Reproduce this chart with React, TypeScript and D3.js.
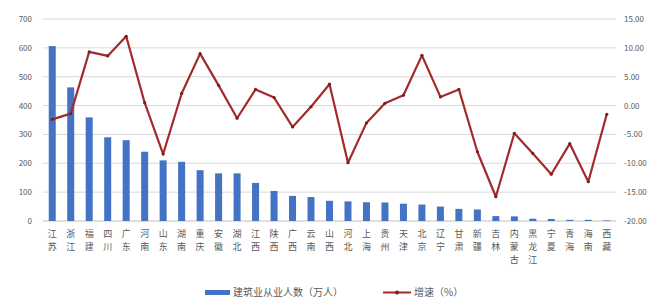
import React from "react";
import * as d3 from "d3";

const categories = ["江苏","浙江","福建","四川","广东","河南","山东","湖南","重庆","安徽","湖北","江西","陕西","广西","云南","山西","河北","上海","贵州","天津","北京","辽宁","甘肃","新疆","吉林","内蒙古","黑龙江","宁夏","青海","海南","西藏"];
const employment = [606,463,359,290,280,240,210,205,176,165,165,132,104,87,83,70,68,65,64,60,57,50,42,40,17,16,8,7,4,4,2];
const growth = [-2.4,-1.4,9.3,8.6,12.0,0.5,-8.4,2.1,9.0,3.5,-2.2,2.8,1.4,-3.7,-0.2,3.7,-9.9,-3.0,0.4,1.8,8.7,1.5,2.8,-8.0,-15.8,-4.8,-8.3,-11.9,-6.6,-13.2,-1.5];
const leftTicks = [0,100,200,300,400,500,600,700];
const rightTicks = [-20,-15,-10,-5,0,5,10,15];
const legendBar = "建筑业从业人数（万人）";
const legendLine = "增速（%）";

export default function App() {
  const W = 653, H = 303;
  const left = 43, right = 616, top = 19, bottom = 221;
  const x = d3.scaleBand<string>().domain(categories).range([left, right]);
  const yL = d3.scaleLinear().domain([0, 700]).range([bottom, top]);
  const yR = d3.scaleLinear().domain([-20, 15]).range([bottom, top]);
  const bw = 7;
  const cx = (c: string) => (x(c) as number) + x.bandwidth() / 2;
  const line = d3.line<number>().x((_, i) => cx(categories[i])).y((d) => yR(d));
  const font = "'Noto Sans CJK SC', 'Noto Sans', sans-serif";
  return (
    <svg width={W} height={H} style={{ position: "absolute", left: 0, top: 0, background: "#fff" }} fontFamily={font}>
      {leftTicks.map((t) => (
        <line key={t} x1={left} x2={right} y1={yL(t)} y2={yL(t)} stroke={t === 0 ? "#bfbfbf" : "#d9d9d9"} strokeWidth={1} />
      ))}
      {leftTicks.map((t) => (
        <text key={"l" + t} x={32} y={yL(t) + 3} fontSize={8} fill="#595959" textAnchor="end">{t}</text>
      ))}
      {rightTicks.map((t) => (
        <text key={"r" + t} x={624} y={yR(t) + 3} fontSize={8} fill="#595959" textAnchor="start">{t.toFixed(2)}</text>
      ))}
      {categories.map((c, i) => (
        <rect key={c} x={cx(c) - bw / 2} y={yL(employment[i])} width={bw} height={bottom - yL(employment[i])} fill="#4472c4" />
      ))}
      <path d={line(growth) || ""} fill="none" stroke="#a32a2a" strokeWidth={2.2} strokeLinejoin="round" />
      {growth.map((g, i) => (
        <circle key={i} cx={cx(categories[i])} cy={yR(g)} r={1.6} fill="#7a1f1f" />
      ))}
      {categories.map((c) =>
        Array.from(c).map((ch, j) => (
          <text key={"c" + c + j} x={cx(c)} y={237 + j * 13} fontSize={9} fill="#595959" textAnchor="middle">{ch}</text>
        ))
      )}
      <rect x={205} y={290} width={25} height={5} fill="#4472c4" />
      <text x={233} y={296} fontSize={10} fill="#595959">{legendBar}</text>
      <line x1={383} x2={411} y1={292.5} y2={292.5} stroke="#a32a2a" strokeWidth={2} />
      <circle cx={397} cy={292.5} r={2} fill="#7a1f1f" />
      <text x={414} y={296} fontSize={10} fill="#595959">{legendLine}</text>
    </svg>
  );
}
